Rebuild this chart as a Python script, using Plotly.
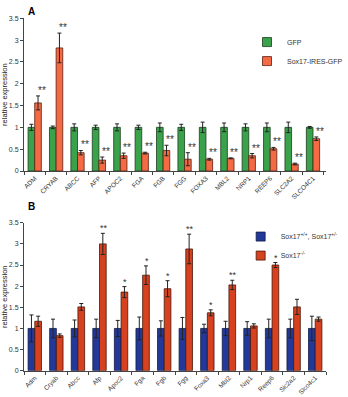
import plotly.graph_objects as go

genes_a = ["ADM", "CRYAB", "ABCC", "AFP", "APOC2", "FGA", "FGB", "FGG", "FOXA3",
           "MBL2", "NRP1", "REEP6", "SLC2A2", "SLCO4C1"]
gfp = [1, 1, 1, 1, 1, 1, 1, 1, 1, 1, 1, 1, 1, 1]
gfp_err = [0.07, 0.03, 0.08, 0.05, 0.08, 0.05, 0.1, 0.07, 0.12, 0.1, 0.08, 0.1, 0.12, 0.02]
sox_ires = [1.56, 2.82, 0.42, 0.25, 0.35, 0.41, 0.47, 0.27, 0.27, 0.29, 0.35, 0.51, 0.16, 0.74]
sox_ires_err = [0.16, 0.34, 0.05, 0.07, 0.06, 0.02, 0.12, 0.15, 0.02, 0.01, 0.05, 0.03, 0.02, 0.04]
stars_a = ["**"] * 14

genes_b = ["Adm", "Cryab", "Abcc", "Afp", "Apoc2", "Fga", "Fgb", "Fgg", "Foxa3",
           "Mbl2", "Nrp1", "Reep6", "Sic2a2", "Slco4c1"]
wt = [1, 1, 1, 1, 1, 1, 1, 1, 1, 1, 1, 1, 1, 1]
wt_err = [0.32, 0.22, 0.2, 0.22, 0.19, 0.27, 0.18, 0.26, 0.1, 0.17, 0.16, 0.22, 0.22, 0.29]
ko = [1.17, 0.83, 1.51, 3.0, 1.86, 2.26, 1.94, 2.88, 1.37, 2.03, 1.06, 2.5, 1.51, 1.22]
ko_err = [0.12, 0.04, 0.08, 0.25, 0.13, 0.22, 0.19, 0.35, 0.07, 0.11, 0.05, 0.06, 0.18, 0.05]
stars_b = ["", "", "", "**", "*", "*", "*", "**", "*", "**", "", "*", "", ""]

FONT = "Liberation Sans, Arial, sans-serif"
GREEN = "#3aa24a"
ORANGE = "#f36a44"
BLUE = "#22399a"
RED = "#d6411f"
EDGE_G = "#1d3d1f"
EDGE_O = "#5a2010"
EDGE_B = "#111a44"
EDGE_R = "#4a1508"

fig = go.Figure()

def err(errs):
    return dict(type="data", array=errs, visible=True, color="#222222", thickness=1, width=2)

fig.add_trace(go.Bar(x=genes_a, y=gfp, name="GFP", marker=dict(color=GREEN, line=dict(color=EDGE_G, width=0.8)),
                     error_y=err(gfp_err), xaxis="x", yaxis="y", showlegend=False))
fig.add_trace(go.Bar(x=genes_a, y=sox_ires, name="Sox17-IRES-GFP", marker=dict(color=ORANGE, line=dict(color=EDGE_O, width=0.8)),
                     error_y=err(sox_ires_err), xaxis="x", yaxis="y", showlegend=False))
fig.add_trace(go.Bar(x=genes_b, y=wt, name="Sox17+/+, Sox17+/-", marker=dict(color=BLUE, line=dict(color=EDGE_B, width=0.8)),
                     error_y=err(wt_err), xaxis="x2", yaxis="y2", showlegend=False))
fig.add_trace(go.Bar(x=genes_b, y=ko, name="Sox17-/-", marker=dict(color=RED, line=dict(color=EDGE_R, width=0.8)),
                     error_y=err(ko_err), xaxis="x2", yaxis="y2", showlegend=False))

# legend entries (legend-only swatches)
def swatch(name, color, edge, legend, xa, ya):
    return go.Scatter(x=[None], y=[None], mode="markers", name=name, legend=legend, xaxis=xa, yaxis=ya,
                      marker=dict(symbol="square", size=9, color=color, line=dict(color=edge, width=0.8)))

fig.add_trace(swatch("GFP", GREEN, EDGE_G, "legend", "x", "y"))
fig.add_trace(swatch("Sox17-IRES-GFP", ORANGE, EDGE_O, "legend", "x", "y"))
fig.add_trace(swatch("Sox17<sup>+/+</sup>, Sox17<sup>+/-</sup>", BLUE, EDGE_B, "legend2", "x2", "y2"))
fig.add_trace(swatch("Sox17<sup>-/-</sup>", RED, EDGE_R, "legend2", "x2", "y2"))

annots = []
for g, v, e, s in zip(genes_a, sox_ires, sox_ires_err, stars_a):
    if s:
        annots.append(dict(x=g, y=v + e, xref="x", yref="y", text=s, showarrow=False,
                           xshift=7, yshift=-2, yanchor="bottom", font=dict(size=10, color="#333333", family=FONT)))
for g, v, e, s in zip(genes_b, ko, ko_err, stars_b):
    if s:
        annots.append(dict(x=g, y=v + e, xref="x2", yref="y2", text=s, showarrow=False,
                           xshift=4, yshift=-2, yanchor="bottom", font=dict(size=9, color="#333333", family=FONT)))
annots.append(dict(x=0.0, y=1.0, xref="paper", yref="paper", text="<b>A</b>", showarrow=False,
                   xanchor="left", yanchor="top", xshift=2, font=dict(size=10, color="black", family=FONT)))
annots.append(dict(x=0.0, y=1 - 198 / 397, xref="paper", yref="paper", text="<b>B</b>", showarrow=False,
                   xanchor="left", yanchor="top", xshift=2, font=dict(size=10, color="black", family=FONT)))

xcommon = dict(type="category", tickangle=-45, tickfont=dict(size=6.5, family=FONT, color="#333333"),
               showline=True, linecolor="#444444", linewidth=1, ticks="outside", tickson="boundaries",
               ticklen=3, tickcolor="#444444", showgrid=False, zeroline=False)
ycommon = dict(range=[0, 3.5], dtick=0.5, showline=True, linecolor="#444444", linewidth=1, ticks="outside",
               ticklen=3, tickcolor="#444444", showgrid=False, zeroline=False,
               tickfont=dict(size=7, family=FONT, color="#333333"),
               title=dict(text="relative expression", font=dict(size=7.5, family=FONT, color="#222222"), standoff=2))

fig.update_layout(
    width=348, height=397,
    margin=dict(l=24, r=2, t=0, b=0),
    paper_bgcolor="white", plot_bgcolor="white",
    barmode="group", bargap=0.38, bargroupgap=0,
    font=dict(family=FONT),
    xaxis=dict(**xcommon, anchor="y", domain=[0, 1]),
    yaxis=dict(**ycommon, anchor="x", domain=[1 - 170 / 397, 1 - 14.5 / 397]),
    xaxis2=dict(**xcommon, anchor="y2", domain=[0, 1]),
    yaxis2=dict(**ycommon, anchor="x2", domain=[1 - 373.3 / 397, 1 - 222.7 / 397]),
    legend=dict(x=(262 - 24) / 322, y=1 - 24 / 397, xanchor="left", yanchor="top", bgcolor="rgba(0,0,0,0)",
                font=dict(size=7, family=FONT, color="#333333"), itemwidth=30, tracegroupgap=0),
    legend2=dict(x=(255 - 24) / 322, y=1 - 222 / 397, xanchor="left", yanchor="top", bgcolor="rgba(0,0,0,0)",
                 font=dict(size=7, family=FONT, color="#333333"), itemwidth=30, tracegroupgap=0),
    annotations=annots,
    showlegend=True,
)

fig.write_html("out.html")
